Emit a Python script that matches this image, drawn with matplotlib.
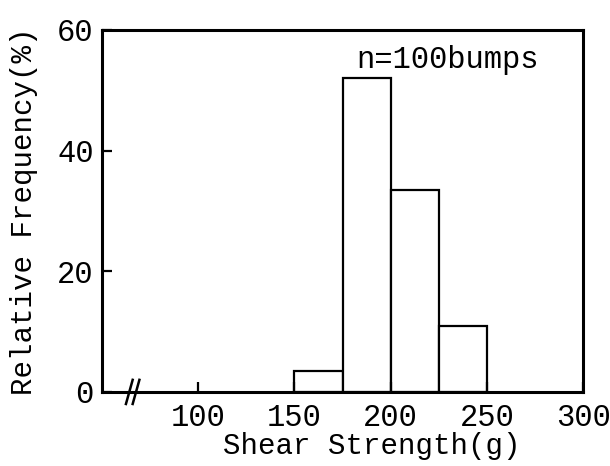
import matplotlib.pyplot as plt

# histogram of bump shear strength
bin_edges = [150, 175, 200, 225, 250]
rel_freq = [3.5, 52, 33.5, 11]
x_ticks = [100, 150, 200, 250, 300]
y_ticks = [0, 20, 40, 60]


def main():
    plt.rcParams['font.family'] = ['Liberation Mono', 'DejaVu Sans Mono']
    fig = plt.figure(figsize=(6.1, 4.66), dpi=100)
    ax = fig.add_axes([0.167, 0.159, 0.789, 0.777])

    lefts = bin_edges[:-1]
    widths = [b - a for a, b in zip(bin_edges[:-1], bin_edges[1:])]
    ax.bar(lefts, rel_freq, width=widths, align='edge',
           facecolor='white', edgecolor='black', linewidth=1.6)

    ax.set_xlim(50, 300)
    ax.set_ylim(0, 60)
    ax.set_xticks(x_ticks)
    ax.set_yticks(y_ticks)
    ax.tick_params(direction='in', length=7, width=1.6, labelsize=22)
    ax.tick_params(axis='x', pad=8)
    ax.tick_params(axis='y', pad=6)
    for s in ax.spines.values():
        s.set_linewidth(2.2)

    ax.set_xlabel('Shear Strength(g)', fontsize=21, labelpad=-1, x=0.56)
    ax.set_ylabel('Relative Frequency(%)', fontsize=21, labelpad=14)
    ax.text(182, 55, 'n=100bumps', fontsize=22, va='center')

    # axis break mark
    for dx in (0, 3.5):
        ax.plot([62.5 + dx, 66 + dx], [-2, 2], color='black',
                linewidth=1.8, clip_on=False)

    fig.savefig('out.png', dpi=100)


if __name__ == '__main__':
    main()
